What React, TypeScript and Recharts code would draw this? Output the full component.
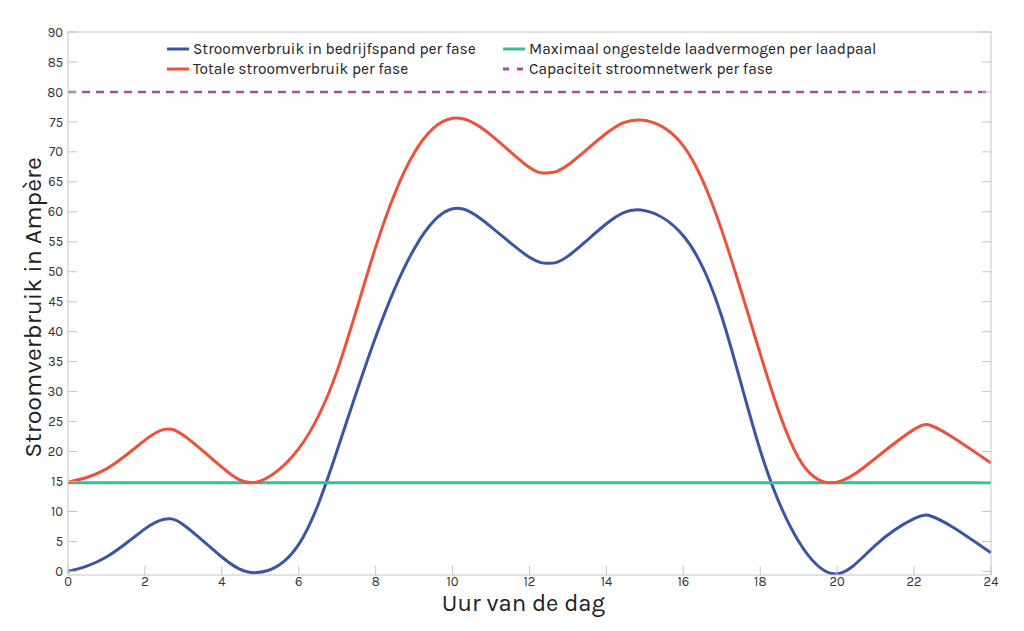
import React from 'react';
import { LineChart, Line, XAxis, YAxis } from 'recharts';

const hours = [0, 1, 2, 2.5, 3, 4, 4.9, 6, 7, 8, 9, 10, 11, 12, 12.5, 13, 14, 14.9, 16, 17, 18, 19, 20, 21, 22, 22.45, 23, 24];
const building = [0, 2.4, 7.1, 8.7, 7.8, 2.4, -0.2, 4.5, 20.2, 39.1, 53.8, 60.5, 57.5, 52.4, 51.4, 52.6, 58.0, 60.3, 56, 42.5, 20.2, 5.0, -0.4, 4.4, 8.8, 9.2, 7.4, 3.1];
const total = [14.9, 17.1, 21.9, 23.7, 22.7, 17.4, 14.9, 20.5, 33.5, 54.1, 69.8, 75.6, 72.8, 67.4, 66.5, 67.8, 73.1, 75.3, 71, 56.9, 36.3, 18.9, 14.9, 18.9, 23.7, 24.3, 22.4, 18.1];
const maxCharge = 14.8;
const gridCapacity = 80;
const xTicks = [0, 2, 4, 6, 8, 10, 12, 14, 16, 18, 20, 22, 24];
const yTicks = [0, 5, 10, 15, 20, 25, 30, 35, 40, 45, 50, 55, 60, 65, 70, 75, 80, 85, 90];

const seriesNames = {
  building: 'Stroomverbruik in bedrijfspand per fase',
  total: 'Totale stroomverbruik per fase',
  maxCharge: 'Maximaal ongestelde laadvermogen per laadpaal',
  grid: 'Capaciteit stroomnetwerk per fase',
};

const colors = {
  building: '#3b55a5',
  total: '#ee5038',
  maxCharge: '#3dbb9f',
  grid: '#a34fa8',
};

const data = hours.map((h, i) => ({
  hour: h,
  building: building[i],
  total: total[i],
  maxCharge: maxCharge,
  grid: gridCapacity,
}));

const FONT = '"Karla", "Open Sans", "Noto Sans", sans-serif';
const AXIS = '#c4c4c4';
const TXT = '#333333';

const LegendItem = ({ color, label, dashed }: { color: string; label: string; dashed?: boolean }) => (
  <div style={{ display: 'flex', alignItems: 'center', height: 20 }}>
    <svg width={22} height={6} style={{ marginRight: 4 }}>
      <line x1={0} y1={3} x2={22} y2={3} stroke={color} strokeWidth={3} strokeDasharray={dashed ? '6 8' : undefined} />
    </svg>
    <span>{label}</span>
  </div>
);

const LegendBlock = () => (
  <div style={{ position: 'absolute', left: 159, top: 31, display: 'flex', fontFamily: FONT, fontSize: 15.5, color: '#222', lineHeight: '20px' }}>
    <div style={{ width: 336 }}>
      <LegendItem color={colors.building} label={seriesNames.building} />
      <LegendItem color={colors.total} label={seriesNames.total} />
    </div>
    <div>
      <LegendItem color={colors.maxCharge} label={seriesNames.maxCharge} />
      <LegendItem color={colors.grid} label={seriesNames.grid} dashed />
    </div>
  </div>
);

export default function App() {
  return (
    <div style={{ position: 'relative', width: 1016, height: 623, background: '#fff' }}>
      <LineChart width={1016} height={623} data={data} margin={{ top: 23, right: 32, bottom: 0, left: 0 }}>
        <XAxis
          dataKey="hour"
          type="number"
          domain={[0, 24]}
          ticks={xTicks}
          interval={0}
          stroke={AXIS}
          tickSize={-9}
          tickMargin={11}
          height={56}
          tick={{ fill: TXT, fontSize: 13, fontFamily: FONT }}
          label={{ value: 'Uur van de dag', position: 'center', dx: -6, dy: -1, fill: '#222', fontSize: 24, fontFamily: FONT }}
        />
        <XAxis xAxisId="top" orientation="top" dataKey="hour" type="number" domain={[0, 24]} height={1} tick={false} tickLine={false} stroke={AXIS} />
        <YAxis
          type="number"
          domain={[-0.6, 90]}
          ticks={yTicks}
          interval={0}
          width={60}
          stroke={AXIS}
          tickSize={-9}
          tickMargin={14}
          allowDataOverflow
          tick={{ fill: TXT, fontSize: 13, fontFamily: FONT }}
          label={{ value: 'Stroomverbruik in Ampère', angle: -90, position: 'center', dx: -6, dy: 4, fill: '#222', fontSize: 25, fontFamily: FONT }}
        />
        <YAxis
          yAxisId="right"
          orientation="right"
          type="number"
          domain={[-0.6, 90]}
          ticks={yTicks}
          interval={0}
          width={1}
          stroke={AXIS}
          tickSize={-9}
          allowDataOverflow
          tickFormatter={() => ''}
        />
        <Line type="natural" dataKey="building" name={seriesNames.building} stroke={colors.building} strokeWidth={3} dot={false} isAnimationActive={false} />
        <Line type="monotone" dataKey="maxCharge" name={seriesNames.maxCharge} stroke={colors.maxCharge} strokeWidth={3} dot={false} isAnimationActive={false} />
        <Line type="natural" dataKey="total" name={seriesNames.total} stroke={colors.total} strokeWidth={3} dot={false} isAnimationActive={false} />
        <Line type="monotone" dataKey="grid" name={seriesNames.grid} stroke={colors.grid} strokeWidth={2.5} strokeDasharray="8 6" dot={false} isAnimationActive={false} />
      </LineChart>
      <LegendBlock />
    </div>
  );
}
